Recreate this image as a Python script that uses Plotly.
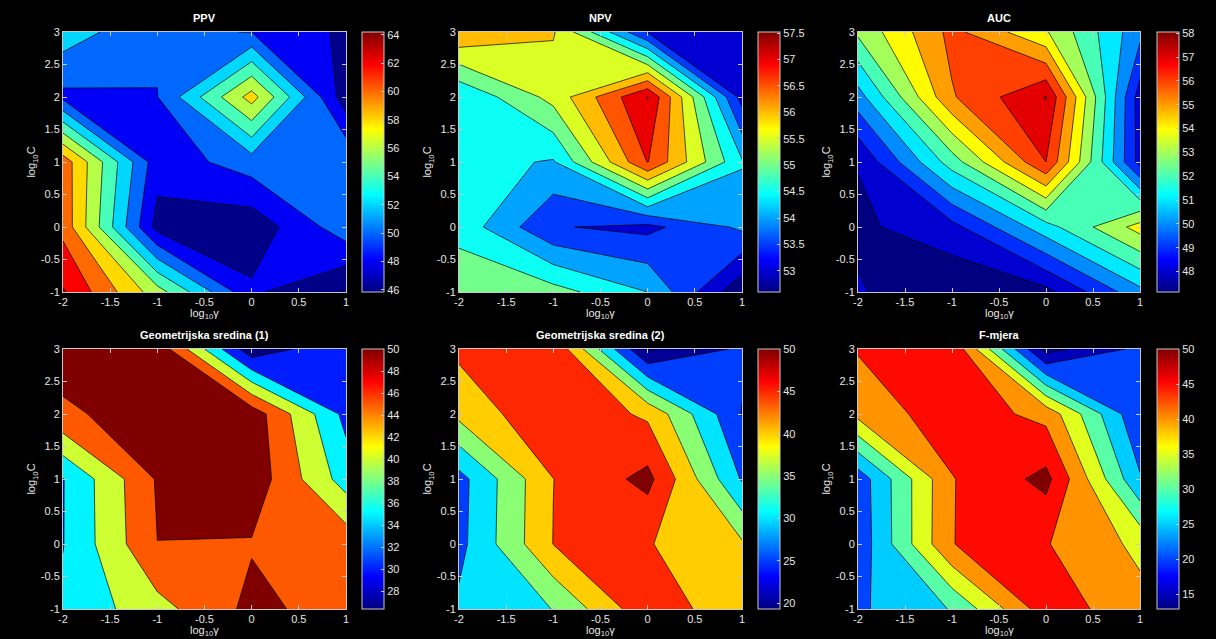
import plotly.graph_objects as go

# ---------------- data ----------------
log_gamma = [-2, -1, 0, 1]
log_C = [-1, 0, 1, 2, 3]

# rows: log_C = -1 .. 3, columns: log_gamma = -2 .. 1
ppv = [
    [64.2, 56.9, 48.37, 45.84],
    [61.4, 47.3, 46.7, 51.2],
    [61.2, 48.8, 51.0, 51.9],
    [49.5, 49.95, 58.85, 46.8],
    [53.1, 50.3, 49.95, 47.6],
]
npv = [
    [55.35, 55.2, 54.5, 52.6],
    [54.83, 53.54, 53.36, 54.1],
    [54.7, 54.45, 57.02, 54.55],
    [54.54, 55.67, 57.52, 53.3],
    [56.45, 56.05, 53.45, 53.1],
]
auc = [
    [48.1, 47.14, 47.7, 50.7],
    [47.79, 48.66, 51.6, 54.4],
    [48.05, 52.5, 57.0, 48.6],
    [50.57, 55.9, 58.05, 48.5],
    [53.2, 56.3, 54.1, 50.3],
]
geo1 = [
    [35.95, 43.2, 51.3, 47.8],
    [34.85, 49.97, 49.63, 48.3],
    [34.8, 50.5, 53.3, 37.7],
    [49.26, 52.1, 53.0, 33.5],
    [52.0, 53.5, 26.5, 34.5],
]
geo2 = [
    [31.0, 35.1, 48.6, 41.1],
    [28.5, 45.1, 45.3, 40.7],
    [28.2, 44.95, 51.5, 29.5],
    [41.4, 49.2, 44.1, 24.8],
    [46.1, 49.5, 19.4, 25.9],
]
fmj = [
    [24.2, 30.3, 47.9, 41.7],
    [21.6, 44.99, 45.3, 38.8],
    [22.0, 44.73, 51.5, 25.5],
    [41.5, 48.0, 43.5, 20.5],
    [45.4, 49.4, 13.0, 21.3],
]

titles = ["PPV", "NPV", "AUC", "Geometrijska sredina (1)", "Geometrijska sredina (2)", "F-mjera"]
x_label = "log<sub>10</sub>γ"
y_label = "log<sub>10</sub>C"

x_ticks = [-2, -1.5, -1, -0.5, 0, 0.5, 1]
x_ticktext = ["-2", "-1.5", "-1", "-0.5", "0", "0.5", "1"]
y_ticks = [-1, -0.5, 0, 0.5, 1, 1.5, 2, 2.5, 3]
y_ticktext = ["-1", "-0.5", "0", "0.5", "1", "1.5", "2", "2.5", "3"]

ppv_cb = [46, 48, 50, 52, 54, 56, 58, 60, 62, 64]
npv_cb = [53, 53.5, 54, 54.5, 55, 55.5, 56, 56.5, 57, 57.5]
auc_cb = [48, 49, 50, 51, 52, 53, 54, 55, 56, 57, 58]
geo1_cb = [28, 30, 32, 34, 36, 38, 40, 42, 44, 46, 48, 50]
geo2_cb = [20, 25, 30, 35, 40, 45, 50]
fmj_cb = [15, 20, 25, 30, 35, 40, 45, 50]

# contour levels (start, end, step) and colour limits
levels = [(46, 64, 2), (53, 57.5, 0.5), (48, 58, 1), (30, 50, 5), (20, 50, 5), (15, 50, 5)]
clims = [(45.84, 64.2), (52.6, 57.52), (47.14, 58.05), (26.4, 50), (19.3, 50), (12.9, 50)]

# ---------------- layout geometry (pixels) ----------------
W, H = 1216, 639
col_x = [(63, 346, 362), (459, 742, 758), (858, 1140, 1157)]
row_y = [(32, 292), (349, 609)]
xlabel_bottom = [322, 639]
CB_W = 22

FG = "#E6E6E6"
AX = "#C8C8C8"


def jet(t):
    t = min(max(t, 0.0), 1.0)
    r = min(max(1.5 - abs(4 * t - 3), 0), 1)
    g = min(max(1.5 - abs(4 * t - 2), 0), 1)
    b = min(max(1.5 - abs(4 * t - 1), 0), 1)
    return "rgb(%d,%d,%d)" % (round(r * 255), round(g * 255), round(b * 255))


jet_scale = [[i / 64, jet(i / 64)] for i in range(65)]

datasets = [ppv, npv, auc, geo1, geo2, fmj]
cb_ticks = [ppv_cb, npv_cb, auc_cb, geo1_cb, geo2_cb, fmj_cb]

fig = go.Figure()
annotations = []

for i, (z, ttl, lev, clim, cbt) in enumerate(zip(datasets, titles, levels, clims, cb_ticks)):
    r, c = divmod(i, 3)
    x0, x1, cbx = col_x[c]
    y0, y1 = row_y[r]
    n = i + 1
    xa = "x" if n == 1 else "x%d" % n
    ya = "y" if n == 1 else "y%d" % n

    start, end, step = lev
    cmin, cmax = clim
    nc = int(round((end - start) / step)) + 1
    band_scale = [[0.0, jet(0.0)]]
    for k in range(nc):
        L = start + k * step
        band_scale.append([(k + 1) / nc, jet((L - cmin) / (cmax - cmin))])

    fig.add_trace(go.Contour(
        x=log_gamma, y=log_C, z=z,
        autocontour=False,
        contours=dict(start=start, end=end, size=step, coloring="fill", showlines=True),
        line=dict(color="black", width=0.7, smoothing=0),
        colorscale=band_scale, showscale=False,
        hoverinfo="skip",
        xaxis=xa, yaxis=ya,
    ))
    # continuous jet colour bar
    fig.add_trace(go.Scatter(
        x=[-2, -2], y=[-1, -1], mode="markers",
        marker=dict(size=1, opacity=0, color=[cmin, cmax], cmin=cmin, cmax=cmax,
                    colorscale=jet_scale, showscale=True,
                    colorbar=dict(
                        x=cbx / W, xanchor="left", xpad=0,
                        y=1 - y0 / H, yanchor="top", ypad=0,
                        lenmode="pixels", len=(y1 - y0),
                        thicknessmode="pixels", thickness=CB_W,
                        outlinecolor=AX, outlinewidth=1,
                        tickvals=cbt, ticks="inside", ticklen=3, tickcolor=AX,
                        tickfont=dict(family="Arial", size=11, color=FG),
                    )),
        hoverinfo="skip", xaxis=xa, yaxis=ya,
    ))

    axis_common = dict(showgrid=False, zeroline=False, showline=True, mirror="ticks",
                       linecolor=AX, linewidth=1, ticks="inside", ticklen=4, tickcolor=AX,
                       automargin=False,
                       tickfont=dict(family="Arial", size=11, color=FG))
    fig.layout["xaxis" + ("" if n == 1 else str(n))] = dict(
        domain=[x0 / W, x1 / W], range=[-2, 1], anchor=ya,
        tickvals=x_ticks, ticktext=x_ticktext,
        **axis_common)
    fig.layout["yaxis" + ("" if n == 1 else str(n))] = dict(
        domain=[1 - y1 / H, 1 - y0 / H], range=[-1, 3], anchor=xa,
        tickvals=y_ticks, ticktext=y_ticktext,
        title=dict(text=y_label, standoff=2,
                   font=dict(family="Arial", size=11, color=FG)),
        **axis_common)

    # panel title
    annotations.append(dict(
        text="<b>%s</b>" % ttl, x=(x0 + x1) / 2 / W, y=1 - (y0 - 6) / H,
        xref="paper", yref="paper", xanchor="center", yanchor="bottom",
        showarrow=False, font=dict(family="Arial", size=11, color="white")))
    # x-axis label
    annotations.append(dict(
        text=x_label, x=(x0 + x1) / 2 / W, y=1 - xlabel_bottom[r] / H,
        xref="paper", yref="paper", xanchor="center", yanchor="bottom",
        showarrow=False, borderpad=0,
        font=dict(family="Arial", size=11, color=FG)))

fig.update_layout(
    width=W, height=H, autosize=False,
    margin=dict(l=0, r=0, t=0, b=0, pad=0, autoexpand=False),
    paper_bgcolor="black", plot_bgcolor="black",
    showlegend=False, annotations=annotations,
)

fig.write_html("out.html", config={"displayModeBar": False},
               post_script="document.body.style.margin='0';document.body.style.background='black';")
